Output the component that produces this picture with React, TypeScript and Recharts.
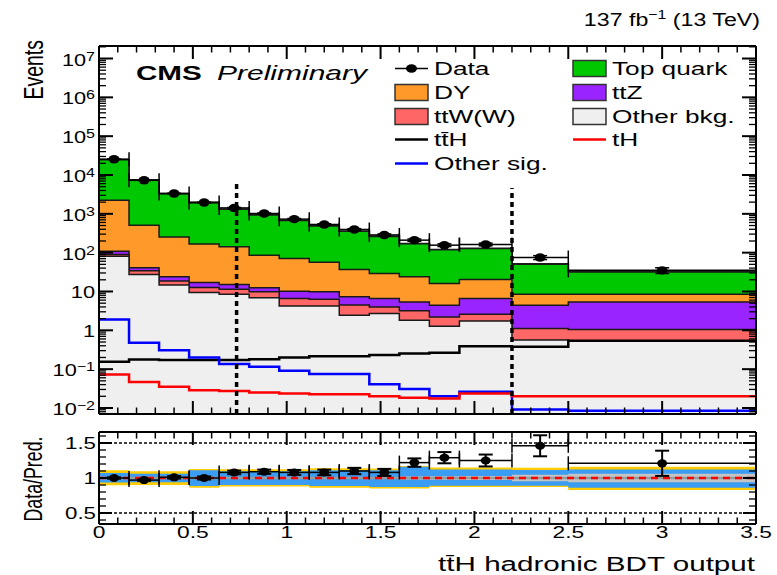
import React from 'react';
import { ComposedChart, Area, Line, Scatter, XAxis, YAxis, ErrorBar, ReferenceLine } from 'recharts';

const FONT = "'Liberation Sans', Arial, Helvetica, sans-serif";
const SX = 1.42;

// ---------- data ----------
const binEdges = [0, 0.16, 0.32, 0.48, 0.64, 0.8, 0.96, 1.12, 1.28, 1.44, 1.6, 1.76, 1.92, 2.2, 2.5, 3.5];

const otherBkg = [81, 27.5, 14.6, 9.4, 8.55, 6.9, 4.2, 4.2, 2.46, 2.72, 1.83, 1.28, 1.75, 0.56, 0.54];
const ttW = [9, 6.5, 3.9, 3.3, 2.95, 2.9, 2.4, 2.1, 2.0, 1.28, 1.37, 0.92, 0.85, 0.56, 0.51];
const ttZ = [19, 6.6, 5.3, 4.4, 3.7, 2.6, 3.6, 3.6, 2.85, 2.6, 2.2, 2.25, 4.0, 3.33, 4.35];
const dy = [2141, 469, 231, 149, 126, 73.6, 60.8, 47.1, 29.7, 22.4, 18.4, 11.65, 13.8, 4.05, 3.1];
const topQuark = [22750, 6990, 3045, 1794, 1179, 854, 605, 436, 323, 236, 148, 104, 108.6, 42.5, 23.5];

const ttH = [0.155, 0.178, 0.171, 0.171, 0.171, 0.181, 0.2, 0.216, 0.216, 0.23, 0.254, 0.263, 0.39, 0.376, 0.535];
const tH = [0.073, 0.047, 0.035, 0.0288, 0.0272, 0.0251, 0.0237, 0.0227, 0.0227, 0.0202, 0.0183, 0.0176, 0.0237, 0.0202, 0.0202];
const otherSig = [1.9, 0.476, 0.309, 0.2, 0.135, 0.115, 0.0906, 0.0745, 0.0745, 0.041, 0.0306, 0.0202, 0.026, 0.0092, 0.0085];

const dataYields = [25500, 7300, 3340, 1960, 1420, 1020, 730, 532, 395, 286, 210, 156, 163, 75, 35];
const dataErr = [160, 85, 58, 44, 38, 32, 27, 23, 20, 17, 14.5, 12.5, 12.8, 8.7, 5.9];

const ratio = [1.0, 0.97, 1.01, 1.0, 1.08, 1.09, 1.08, 1.08, 1.1, 1.08, 1.22, 1.29, 1.25, 1.46, 1.21];
const ratioErr = [0.01, 0.012, 0.018, 0.022, 0.026, 0.03, 0.035, 0.04, 0.045, 0.05, 0.06, 0.08, 0.085, 0.15, 0.18];

const yellowUp = [1.11, 1.095, 1.095, 1.13, 1.125, 1.125, 1.125, 1.14, 1.14, 1.135, 1.17, 1.15, 1.15, 1.145, 1.16];
const yellowDn = [0.895, 0.9, 0.9, 0.86, 0.88, 0.88, 0.88, 0.86, 0.86, 0.85, 0.85, 0.87, 0.87, 0.87, 0.83];
const blueUp = [1.07, 1.06, 1.06, 1.11, 1.095, 1.095, 1.095, 1.11, 1.11, 1.11, 1.16, 1.12, 1.12, 1.115, 1.12];
const blueDn = [0.935, 0.94, 0.94, 0.885, 0.9, 0.9, 0.9, 0.885, 0.885, 0.87, 0.87, 0.89, 0.89, 0.89, 0.86];
const grayUp = [1.01, 1.01, 1.012, 1.012, 1.012, 1.012, 1.015, 1.015, 1.015, 1.015, 1.02, 1.025, 1.03, 1.045, 1.06];
const grayDn = [0.99, 0.99, 0.988, 0.988, 0.988, 0.988, 0.985, 0.985, 0.985, 0.985, 0.98, 0.975, 0.97, 0.955, 0.94];

const xMajorLabels = ['0', '0.5', '1', '1.5', '2', '2.5', '3', '3.5'];
const ratioLabels = ['0.5', '1', '1.5'];

const catLines = [0.733, 2.2];
const catLineTops = [7000, 4600];

// ---------- styles ----------
const C = {
  top: '#00c800',
  dy: '#ff9a2a',
  ttZ: '#9a24ff',
  ttW: '#ff6666',
  other: '#efefef',
  outline: '#1a1a1a',
  yellow: '#ffcc00',
  blue: '#3a9cf2',
  gray: '#c4c4c4',
};

const Y_MIN = 0.007;
const Y_MAX = 2.1e7;
const R_MIN = 0.343;
const R_MAX = 1.657;

// ---------- tables ----------
const nb = binEdges.length - 1;
const mainRows = binEdges.map((x, i) => {
  const j = Math.min(i, nb - 1);
  const s1 = otherBkg[j];
  const s2 = s1 + ttW[j];
  const s3 = s2 + ttZ[j];
  const s4 = s3 + dy[j];
  const s5 = s4 + topQuark[j];
  return { x, sOther: s1, sTtW: s2, sTtZ: s3, sDY: s4, sTop: s5, ttH: ttH[j], tH: tH[j], otherSig: otherSig[j] };
});
const dataPts = dataYields.map((v, i) => ({
  x: (binEdges[i] + binEdges[i + 1]) / 2,
  y: v,
  ex: (binEdges[i + 1] - binEdges[i]) / 2,
  ey: dataErr[i],
}));
const ratioRows = binEdges.map((x, i) => {
  const j = Math.min(i, nb - 1);
  return { x, yellow: [yellowDn[j], yellowUp[j]], blue: [blueDn[j], blueUp[j]], gray: [grayDn[j], grayUp[j]] };
});
const ratioPts = ratio.map((v, i) => ({
  x: (binEdges[i] + binEdges[i + 1]) / 2,
  y: v,
  ex: (binEdges[i + 1] - binEdges[i]) / 2,
  ey: ratioErr[i],
}));

// ---------- ticks ----------
const xTicks = Array.from({ length: 36 }, (_, i) => i / 10);
const logTicks: number[] = [];
for (let e = -3; e <= 7; e++) {
  for (let k = 1; k <= 9; k++) {
    const v = k * Math.pow(10, e);
    if (v >= Y_MIN && v <= Y_MAX) logTicks.push(v);
  }
}
const rTicks = Array.from({ length: 13 }, (_, i) => (4 + i) / 10);

const isHalf = (v: number) => Math.abs(v * 2 - Math.round(v * 2)) < 1e-6;
const isDecade = (v: number) => {
  const l = Math.log10(v);
  return Math.abs(l - Math.round(l)) < 1e-6;
};

const T = ({ x, y, size = 18, sx = SX, anchor = 'start', weight = 'normal', fstyle = 'normal', rotate = false, children }: any) => (
  <g transform={`translate(${x},${y}) scale(${sx},1)${rotate ? ' rotate(-90)' : ''}`}>
    <text x={0} y={0} fontSize={size} textAnchor={anchor} fontWeight={weight} fontStyle={fstyle} fontFamily={FONT} fill="#000">
      {children}
    </text>
  </g>
);

const makeXTick = (dir: number, withLabel: boolean) => (props: any) => {
  const { x, y, payload } = props;
  const v = payload.value;
  const major = isHalf(v);
  const len = major ? 13 : 6.5;
  let label = null;
  if (withLabel && major) {
    const idx = Math.round(v * 2);
    label = (
      <T x={x} y={y + 14} size={16.5} sx={1.38} anchor="middle">
        {xMajorLabels[idx]}
      </T>
    );
  }
  return (
    <g>
      <line x1={x} x2={x} y1={y} y2={y + dir * len} stroke="#000" strokeWidth={major ? 2 : 1.5} />
      {label}
    </g>
  );
};

const makeLogTick = (dir: number, withLabel: boolean) => (props: any) => {
  const { x, y, payload } = props;
  const v = payload.value;
  const major = isDecade(v);
  const len = major ? 14 : 7;
  let label = null;
  if (withLabel && major) {
    const e = Math.round(Math.log10(v));
    label = (
      <T x={x - 4} y={y + 7} size={17} sx={1.28} anchor="end">
        {e === 0 ? '1' : e === 1 ? '10' : (
          <>
            10
            <tspan dy={-5} fontSize={12.5}>{e < 0 ? '\u2212' + -e : String(e)}</tspan>
          </>
        )}
      </T>
    );
  }
  return (
    <g>
      <line x1={x} x2={x + dir * len} y1={y} y2={y} stroke="#000" strokeWidth={major ? 2 : 1.3} />
      {label}
    </g>
  );
};

const makeRTick = (dir: number, withLabel: boolean) => (props: any) => {
  const { x, y, payload } = props;
  const v = payload.value;
  const major = isHalf(v);
  const len = major ? 13 : 7;
  let label = null;
  if (withLabel && major) {
    const idx = Math.round(v * 2) - 1;
    label = (
      <T x={x - 3} y={y + 6} size={16.5} sx={1.35} anchor="end">
        {ratioLabels[idx]}
      </T>
    );
  }
  return (
    <g>
      <line x1={x} x2={x + dir * len} y1={y} y2={y} stroke="#000" strokeWidth={major ? 2 : 1.3} />
      {label}
    </g>
  );
};

const DataDot = (rx: number, ry: number) => (props: any) => {
  const { cx, cy } = props;
  if (cx == null || cy == null) return <g />;
  return <ellipse cx={cx} cy={cy} rx={rx} ry={ry} fill="#000" />;
};

const axisLine = { stroke: '#000', strokeWidth: 2 };

// ---------- legend ----------
const legendRowsY = [68.5, 92.5, 116.5, 139.5, 163.5];
const legendLeft = [
  { label: 'Data', kind: 'data', color: '#000' },
  { label: 'DY', kind: 'box', color: C.dy },
  { label: 'ttW(W)', kind: 'box', color: C.ttW },
  { label: 't\u0074\u0304H', kind: 'line', color: '#000' },
  { label: 'Other sig.', kind: 'line', color: '#0000ff' },
];
const legendRight = [
  { label: 'Top quark', kind: 'box', color: C.top },
  { label: 'ttZ', kind: 'box', color: C.ttZ },
  { label: 'Other bkg.', kind: 'box', color: C.other },
  { label: 'tH', kind: 'line', color: '#ff0000' },
];

const LegendCol = ({ items, x0 }: any) => (
  <g>
    {items.map((it: any, i: number) => {
      const cy = legendRowsY[i];
      let sym = null;
      if (it.kind === 'box') {
        sym = <rect x={x0} y={cy - 8} width={33} height={16} fill={it.color} stroke="#333" strokeWidth={1.5} />;
      } else if (it.kind === 'line') {
        sym = <line x1={x0} x2={x0 + 33} y1={cy} y2={cy} stroke={it.color} strokeWidth={2.5} />;
      } else {
        sym = (
          <g>
            <line x1={x0} x2={x0 + 33} y1={cy} y2={cy} stroke="#000" strokeWidth={1.5} />
            <ellipse cx={x0 + 16.5} cy={cy} rx={5.5} ry={4.2} fill="#000" />
          </g>
        );
      }
      return (
        <g key={i}>
          {sym}
          <T x={x0 + 39} y={cy + 6.7} size={18.5} sx={1.42}>
            {it.label}
          </T>
        </g>
      );
    })}
  </g>
);

export default function App() {
  return (
    <div style={{ position: 'absolute', left: 0, top: 0, width: 777, height: 575, background: '#fff', overflow: 'hidden' }}>
      <div style={{ position: 'absolute', left: 0, top: 0 }}>
        <ComposedChart width={777} height={420} data={mainRows} margin={{ top: 40, right: 0, bottom: 0, left: 0 }}>
          <Area type="stepAfter" dataKey="sTop" fill={C.top} fillOpacity={1} stroke={C.outline} strokeWidth={1.8} baseValue={Y_MIN} isAnimationActive={false} />
          <Area type="stepAfter" dataKey="sDY" fill={C.dy} fillOpacity={1} stroke={C.outline} strokeWidth={1.5} baseValue={Y_MIN} isAnimationActive={false} />
          <Area type="stepAfter" dataKey="sTtZ" fill={C.ttZ} fillOpacity={1} stroke={C.outline} strokeWidth={1.5} baseValue={Y_MIN} isAnimationActive={false} />
          <Area type="stepAfter" dataKey="sTtW" fill={C.ttW} fillOpacity={1} stroke={C.outline} strokeWidth={1.5} baseValue={Y_MIN} isAnimationActive={false} />
          <Area type="stepAfter" dataKey="sOther" fill={C.other} fillOpacity={1} stroke={C.outline} strokeWidth={1.5} baseValue={Y_MIN} isAnimationActive={false} />
          <Line type="stepAfter" dataKey="ttH" stroke="#000" strokeWidth={2.5} dot={false} isAnimationActive={false} />
          <Line type="stepAfter" dataKey="otherSig" stroke="#0000ff" strokeWidth={2.5} dot={false} isAnimationActive={false} />
          <Line type="stepAfter" dataKey="tH" stroke="#ff0000" strokeWidth={2.5} dot={false} isAnimationActive={false} />
          {catLines.map((cx, i) => (
            <ReferenceLine
              key={i}
              segment={[{ x: cx, y: Y_MIN }, { x: cx, y: catLineTops[i] }]}
              stroke="#000"
              strokeWidth={3.5}
              strokeDasharray="5 4"
              ifOverflow="visible"
            />
          ))}
          <Scatter data={dataPts} dataKey="y" fill="#000" shape={DataDot(5.5, 4.2)} isAnimationActive={false}>
            <ErrorBar dataKey="ex" direction="x" width={7} stroke="#000" strokeWidth={1.5} />
            <ErrorBar dataKey="ey" direction="y" width={7} stroke="#000" strokeWidth={1.5} />
          </Scatter>
          <XAxis type="number" dataKey="x" domain={[0, 3.5]} allowDataOverflow ticks={xTicks} interval={0} height={6} tickSize={0} tickMargin={0} tickLine={false} axisLine={axisLine} tick={makeXTick(-1, false)} />
          <XAxis xAxisId="top" orientation="top" type="number" dataKey="x" domain={[0, 3.5]} allowDataOverflow ticks={xTicks} interval={0} height={6} tickSize={0} tickMargin={0} tickLine={false} axisLine={axisLine} tick={makeXTick(1, false)} />
          <YAxis type="number" scale="log" domain={[Y_MIN, Y_MAX]} allowDataOverflow ticks={logTicks} interval={0} width={99} tickSize={0} tickMargin={0} tickLine={false} axisLine={axisLine} tick={makeLogTick(1, true)} />
          <YAxis yAxisId="right" orientation="right" type="number" scale="log" domain={[Y_MIN, Y_MAX]} allowDataOverflow ticks={logTicks} interval={0} width={21} tickSize={0} tickMargin={0} tickLine={false} axisLine={axisLine} tick={makeLogTick(-1, false)} />
        </ComposedChart>
      </div>
      <div style={{ position: 'absolute', left: 0, top: 420 }}>
        <ComposedChart width={777} height={155} data={ratioRows} margin={{ top: 6, right: 0, bottom: 11, left: 0 }}>
          <Area type="stepAfter" dataKey="yellow" fill={C.yellow} fillOpacity={1} stroke="none" isAnimationActive={false} />
          <Area type="stepAfter" dataKey="blue" fill={C.blue} fillOpacity={1} stroke="none" isAnimationActive={false} />
          <Area type="stepAfter" dataKey="gray" fill={C.gray} fillOpacity={1} stroke="none" isAnimationActive={false} />
          <ReferenceLine y={1.5} stroke="#000" strokeWidth={1.5} strokeDasharray="3 2" />
          <ReferenceLine y={0.5} stroke="#000" strokeWidth={1.5} strokeDasharray="3 2" />
          <ReferenceLine y={1} stroke="#9a9a9a" strokeWidth={2.5} />
          <ReferenceLine y={1} stroke="#ff0000" strokeWidth={2.5} strokeDasharray="7 5" />
          <Scatter data={ratioPts} dataKey="y" fill="#000" shape={DataDot(5, 4)} isAnimationActive={false}>
            <ErrorBar dataKey="ex" direction="x" width={7} stroke="#000" strokeWidth={1.5} />
            <ErrorBar dataKey="ey" direction="y" width={7} stroke="#000" strokeWidth={2} />
          </Scatter>
          <XAxis type="number" dataKey="x" domain={[0, 3.5]} allowDataOverflow ticks={xTicks} interval={0} height={40} tickSize={0} tickMargin={0} tickLine={false} axisLine={axisLine} tick={makeXTick(-1, true)} />
          <XAxis xAxisId="top" orientation="top" type="number" dataKey="x" domain={[0, 3.5]} allowDataOverflow ticks={xTicks} interval={0} height={6} tickSize={0} tickMargin={0} tickLine={false} axisLine={axisLine} tick={makeXTick(1, false)} />
          <YAxis type="number" domain={[R_MIN, R_MAX]} allowDataOverflow ticks={rTicks} interval={0} width={99} tickSize={0} tickMargin={0} tickLine={false} axisLine={axisLine} tick={makeRTick(1, true)} />
          <YAxis yAxisId="right" orientation="right" type="number" domain={[R_MIN, R_MAX]} allowDataOverflow ticks={rTicks} interval={0} width={21} tickSize={0} tickMargin={0} tickLine={false} axisLine={axisLine} tick={makeRTick(-1, false)} />
        </ComposedChart>
      </div>
      <svg width={777} height={575} style={{ position: 'absolute', left: 0, top: 0, pointerEvents: 'none' }}>
        <T x={760} y={26} size={19} sx={1.22} anchor="end">
          137 fb<tspan dy={-7} fontSize={13}>{'\u22121'}</tspan>
          <tspan dy={7}> (13 TeV)</tspan>
        </T>
        <T x={136} y={79.5} size={20} sx={1.48} weight="bold">CMS</T>
        <T x={217} y={79.5} size={20} sx={1.5} fstyle="italic">Preliminary</T>
        <LegendCol items={legendLeft} x0={395} />
        <LegendCol items={legendRight} x0={573} />
        <T x={43} y={40} size={19.5} sx={1.45} anchor="end" rotate>Events</T>
        <T x={42} y={479} size={17.8} sx={1.45} anchor="middle" rotate>Data/Pred.</T>
        <T x={755} y={571} size={20} sx={1.48} anchor="end">{'t\u0074\u0304H hadronic BDT output'}</T>
      </svg>
    </div>
  );
}
